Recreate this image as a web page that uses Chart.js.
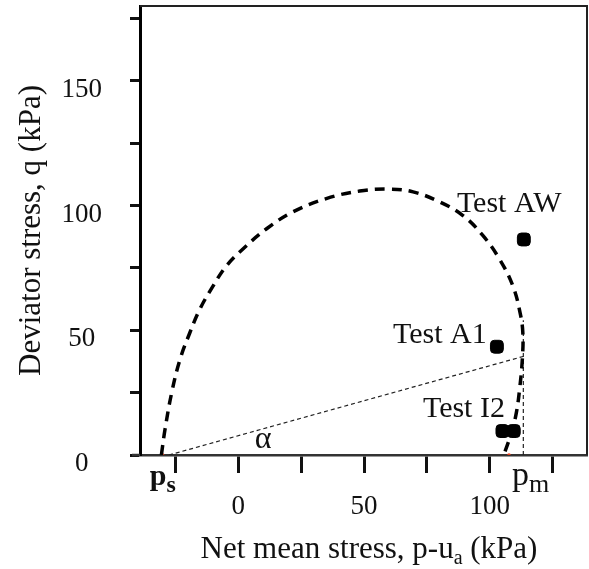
<!DOCTYPE html>
<html>
<head>
<meta charset="utf-8">
<script src="https://cdn.jsdelivr.net/npm/chart.js@4.4.1/dist/chart.umd.min.js"></script>
<style>
  html, body { margin: 0; padding: 0; background: #fff; }
  canvas { display: block; }
</style>
</head>
<body>
<canvas id="grafico" width="589" height="569"></canvas>
<script>
// Superficie de fluencia (curva discontinua)
const superficieP = [-30.5, -29.1, -26.4, -23.1, -19.2, -15.2, -10, -4.6, 2, 11.3, 21.8, 35, 48.3, 60.2,
                     69.5, 80, 89.3, 97.2, 103.8, 109.1, 112, 113.1, 112.9, 111.8, 110.5, 108.5, 105.8];
const superficieQ = [0, 10, 25, 38.3, 49, 58.5, 67.7, 75.9, 82.7, 90.7, 97.5, 102.8, 105.8, 106.6,
                     105.5, 101.5, 96, 88, 78.6, 67.9, 57.1, 49, 38.3, 26.2, 16.8, 8.7, 0.8];

// Ensayos
const ensayos = ['Test AW', 'Test A1', 'Test I2', 'Test I2'];
const ensayoP = [113.5, 102.8, 105, 109.5];
const ensayoQ = [86.4, 43.4, 9.6, 9.6];

// Líneas auxiliares (alfa y p_m)
const alfaP = [-27.5, 113.2];
const alfaQ = [0, 39.5];
const pmP = [113.3, 113.3];
const pmQ = [0, 54];

// Marcas rojas sobre el eje
const marcasP = [-30, 107.6];
const marcasQ = [0, 0];

// Ticks con etiqueta
const ticksX = [0, 50, 100];
const ticksY = [0, 50, 100, 150];

const fuente = "'Liberation Serif', 'Times New Roman', serif";

const puntos = (xs, ys) => xs.map((x, i) => ({ x: x, y: ys[i] }));

// Textos y marco dibujados encima
const anotaciones = {
  id: 'anotaciones',
  afterDatasetsDraw(chart) {
    const ctx = chart.ctx;
    const a = chart.chartArea;
    const sx = chart.scales.x, sy = chart.scales.y;
    ctx.save();

    // marco superior y derecho
    ctx.strokeStyle = '#222';
    ctx.lineWidth = 2;
    ctx.beginPath();
    ctx.moveTo(a.left, a.top);
    ctx.lineTo(a.right, a.top);
    ctx.lineTo(a.right, a.bottom);
    ctx.stroke();
    // prolongación del eje x hacia la izquierda
    ctx.strokeStyle = '#333';
    ctx.lineWidth = 2.5;
    ctx.beginPath();
    ctx.moveTo(a.left - 8, a.bottom);
    ctx.lineTo(a.left, a.bottom);
    ctx.stroke();

    ctx.fillStyle = '#111';
    ctx.textBaseline = 'alphabetic';
    ctx.textAlign = 'left';

    ctx.font = '30px ' + fuente;
    ctx.fillText('Test AW', sx.getPixelForValue(86.9), sy.getPixelForValue(97.6));
    ctx.fillText('Test A1', sx.getPixelForValue(61.5), sy.getPixelForValue(44.8));
    ctx.fillText('Test I2', sx.getPixelForValue(73.4), sy.getPixelForValue(15.4));

    ctx.font = '32px ' + fuente;
    ctx.fillText('\u03B1', sx.getPixelForValue(6.6), sy.getPixelForValue(2.8));

    // p_s
    let x = sx.getPixelForValue(-35.1);
    ctx.font = 'bold 30px ' + fuente;
    ctx.fillText('p', x, a.bottom + 30);
    x += ctx.measureText('p').width;
    ctx.font = 'bold 24px ' + fuente;
    ctx.fillText('s', x, a.bottom + 37);

    // p_m
    x = sx.getPixelForValue(108.8);
    ctx.font = '34px ' + fuente;
    ctx.fillText('p', x, a.bottom + 30);
    x += ctx.measureText('p').width;
    ctx.font = '26px ' + fuente;
    ctx.fillText('m', x, a.bottom + 37);

    // título del eje x con subíndice
    const partes = [
      { t: 'Net mean stress, p-u', f: '31px ' + fuente, dy: 0 },
      { t: 'a', f: '20px ' + fuente, dy: 6 },
      { t: ' (kPa)', f: '31px ' + fuente, dy: 0 }
    ];
    let ancho = 0;
    partes.forEach(p => { ctx.font = p.f; ancho += ctx.measureText(p.t).width; });
    x = 369 - ancho / 2;
    partes.forEach(p => {
      ctx.font = p.f;
      ctx.fillText(p.t, x, 558 + p.dy);
      x += ctx.measureText(p.t).width;
    });

    ctx.restore();
  }
};

new Chart(document.getElementById('grafico'), {
  type: 'scatter',
  data: {
    datasets: [
      {
        label: 'superficie',
        data: puntos(superficieP, superficieQ),
        showLine: true,
        borderColor: '#000',
        borderWidth: 3.5,
        borderDash: [10, 7],
        tension: 0.4,
        pointRadius: 0,
        fill: false
      },
      {
        label: 'alfa',
        data: puntos(alfaP, alfaQ),
        showLine: true,
        borderColor: '#222',
        borderWidth: 1.2,
        borderDash: [4, 3],
        pointRadius: 0
      },
      {
        label: 'pm',
        data: puntos(pmP, pmQ),
        showLine: true,
        borderColor: '#222',
        borderWidth: 1.2,
        borderDash: [4, 3],
        pointRadius: 0
      },
      {
        label: 'ensayos',
        data: puntos(ensayoP, ensayoQ),
        showLine: false,
        pointStyle: 'rectRounded',
        pointRadius: 7.5,
        pointBackgroundColor: '#000',
        pointBorderColor: '#000',
        pointBorderWidth: 1
      },
      {
        label: 'marcas',
        data: puntos(marcasP, marcasQ),
        showLine: false,
        pointRadius: 1.8,
        pointBackgroundColor: '#e8401c',
        pointBorderWidth: 0
      }
    ]
  },
  options: {
    responsive: false,
    animation: false,
    layout: { autoPadding: false, padding: { top: 6, right: 2, left: 0, bottom: 0 } },
    plugins: {
      legend: { display: false },
      tooltip: { enabled: false }
    },
    scales: {
      x: {
        type: 'linear',
        min: -39,
        max: 138.6,
        afterFit(s) { s.height = 114; s.paddingLeft = 0; s.paddingRight = 0; },
        border: { display: true, color: '#333', width: 2.5 },
        grid: { drawOnChartArea: false, drawTicks: true, tickLength: 18, tickWidth: 3, tickColor: '#111' },
        ticks: {
          stepSize: 25,
          includeBounds: false,
          padding: 18,
          color: '#111',
          font: { family: fuente, size: 27 },
          callback: v => ticksX.includes(v) ? String(v) : ''
        }
      },
      y: {
        type: 'linear',
        min: 0,
        max: 180,
        afterFit(s) { s.width = 140; s.paddingTop = 0; s.paddingBottom = 0; },
        border: { display: true, color: '#000', width: 3 },
        grid: { drawOnChartArea: false, drawTicks: true, tickLength: 10, tickWidth: 3, tickColor: '#111' },
        ticks: {
          stepSize: 25,
          includeBounds: false,
          padding: 28,
          crossAlign: 'center',
          labelOffset: 9,
          color: '#111',
          font: { family: fuente, size: 27 },
          callback: v => ticksY.includes(v) ? String(v) : ''
        },
        title: {
          display: true,
          text: 'Deviator stress, q (kPa)',
          color: '#111',
          font: { family: fuente, size: 31 },
          padding: { top: 13, bottom: 0 }
        }
      }
    }
  },
  plugins: [anotaciones]
});
</script>
</body>
</html>
